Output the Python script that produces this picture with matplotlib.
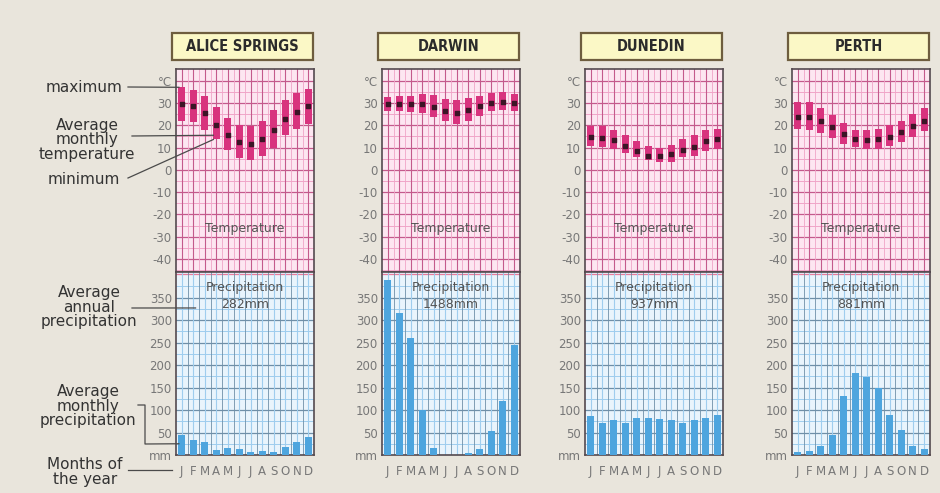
import matplotlib
matplotlib.use("Agg")
import matplotlib.pyplot as plt
from matplotlib.patches import Rectangle
from matplotlib.lines import Line2D

stations = ["ALICE SPRINGS", "DARWIN", "DUNEDIN", "PERTH"]
month_labels = list("JFMAMJJASOND")
annual_precip = ["282mm", "1488mm", "937mm", "881mm"]

# monthly maximum / mean / minimum temperature (deg C)
t_max = {
    "ALICE SPRINGS": [37, 36, 33.3, 28, 23.3, 20.3, 19.6, 22.1, 26.7, 31.5, 34.5, 36.3],
    "DARWIN":        [32.7, 33, 33.3, 34.2, 33.6, 31.8, 31.2, 32.2, 33.3, 34.5, 35, 34.2],
    "DUNEDIN":       [19.6, 19.6, 17.8, 15.4, 12.8, 10.6, 9.9, 11.3, 13.6, 15.4, 17.8, 18.4],
    "PERTH":         [30.3, 30.3, 27.8, 24.8, 21, 18, 17.8, 18.4, 20.3, 21.8, 25.2, 27.8],
}
t_min = {
    "ALICE SPRINGS": [21.8, 21.3, 17.8, 13.6, 8.8, 5.4, 4.3, 6.4, 9.9, 15.4, 18.4, 20.7],
    "DARWIN":        [26.3, 26.3, 25.8, 25.5, 23.7, 21.8, 20.6, 22.1, 24, 26.3, 26.6, 26.3],
    "DUNEDIN":       [10.6, 10.3, 9.4, 7.5, 5.7, 4.5, 3.7, 3.7, 5.8, 6.4, 8.4, 9.4],
    "PERTH":         [18.4, 18, 16.6, 14.3, 11.8, 10.3, 9.4, 9.4, 10.9, 12.4, 14.6, 17.3],
}
t_mean = {
    "ALICE SPRINGS": [29.3, 28.5, 25.5, 20.3, 15.8, 12.4, 11.8, 14, 18, 22.8, 26, 28.5],
    "DARWIN":        [29.5, 29.5, 29.6, 29.6, 28, 26.3, 25.5, 26.7, 28.5, 30, 30.3, 30],
    "DUNEDIN":       [14.6, 14.3, 13.3, 10.9, 8.5, 6.3, 6, 7, 8.8, 10.3, 12.8, 13.6],
    "PERTH":         [23.7, 23.7, 21.8, 19.1, 16.1, 14, 13.3, 13.6, 14.8, 16.9, 19.6, 22],
}
# monthly precipitation (mm)
precip = {
    "ALICE SPRINGS": [45, 34, 28, 11, 15, 13, 7, 9, 7, 17, 30, 41],
    "DARWIN":        [390, 315, 260, 99, 16, 1, 1, 4, 13, 54, 121, 244],
    "DUNEDIN":       [87, 72, 77, 72, 82, 82, 81, 77, 71, 77, 82, 90],
    "PERTH":         [6, 10, 20, 45, 132, 183, 174, 148, 88, 56, 20, 13],
}

W, H = 940, 493
BG = "#e9e5dc"
INK = "#333333"
TICK = "#777777"
PINK_BG, PINK_MAJ, PINK_MIN = "#fde6f1", "#c45a8c", "#f0a5c8"
BLUE_BG, BLUE_MAJ, BLUE_MIN = "#e9f4fc", "#6f8fa8", "#9fcdee"
BAR_T, BAR_P = "#d8337e", "#4ea5de"
EDGE = "#54494f"

fig = plt.figure(figsize=(W / 100, H / 100), dpi=100, facecolor=BG)


def box(x0, y0, x1, y1):
    """pixel box (top-left origin) -> figure rect"""
    return [x0 / W, 1 - y1 / H, (x1 - x0) / W, (y1 - y0) / H]


def fpt(x, y):
    return (x / W, 1 - y / H)


lefts = [176, 382, 585, 792]
pw = 138
months = list(range(12))
axes_t, axes_p = [], []

for i, st in enumerate(stations):
    x0 = lefts[i]
    # ---- temperature ----
    at = fig.add_axes(box(x0, 69, x0 + pw, 272), facecolor=PINK_BG)
    at.set_xlim(-0.5, 11.5)
    at.set_ylim(-45.8, 45.2)
    for v in range(-45, 45, 5):
        at.axhline(v, color=PINK_MAJ if v % 10 == 0 else PINK_MIN,
                   lw=0.9 if v % 10 == 0 else 0.7, zorder=1)
    for m in months:
        at.axvline(m, color=PINK_MAJ, lw=0.8, zorder=1)
        at.axvline(m + 0.5, color=PINK_MIN, lw=0.6, zorder=1)
    lo, hi = t_min[st], t_max[st]
    at.bar(months, [h - l for h, l in zip(hi, lo)], bottom=lo, width=0.6,
           color=BAR_T, zorder=3)
    at.scatter(months, t_mean[st], s=5, color="#3b1526", zorder=4, marker="s")
    at.text(5.5, -26.5, "Temperature", ha="center", va="center",
            fontsize=9, color="#555555", zorder=5)
    at.set_yticks(list(range(-40, 41, 10)))
    at.set_yticklabels([str(v) for v in range(-40, 40, 10)] + ["°C"])
    at.set_xticks([])
    at.tick_params(axis="y", length=0, pad=3, labelsize=8.5, labelcolor=TICK)
    for sp in at.spines.values():
        sp.set_color(EDGE)
        sp.set_linewidth(1.2)

    # ---- precipitation ----
    ap = fig.add_axes(box(x0, 272, x0 + pw, 455), facecolor=BLUE_BG)
    ap.set_xlim(-0.5, 11.5)
    ap.set_ylim(0, 407)
    for v in range(25, 400, 25):
        ap.axhline(v, color=BLUE_MAJ if v % 50 == 0 else BLUE_MIN,
                   lw=0.9 if v % 50 == 0 else 0.7, zorder=1)
    ap.axhline(402, color="#e87a9c", lw=0.9, zorder=1)
    for m in months:
        ap.axvline(m, color=BLUE_MIN, lw=0.8, zorder=1)
        ap.axvline(m + 0.5, color=BLUE_MAJ, lw=0.6, zorder=1)
    ap.bar(months, precip[st], width=0.58, color=BAR_P, zorder=3)
    ap.text(5.5, 372, "Precipitation", ha="center", va="center",
            fontsize=9, color="#555555", zorder=5)
    ap.text(5.5, 334, annual_precip[i], ha="center", va="center",
            fontsize=9, color="#555555", zorder=5)
    ap.set_yticks(list(range(0, 351, 50)))
    ap.set_yticklabels(["mm"] + [str(v) for v in range(50, 351, 50)])
    ap.set_xticks(months)
    ap.set_xticklabels(month_labels)
    ap.tick_params(axis="y", length=0, pad=3, labelsize=8.5, labelcolor=TICK)
    ap.tick_params(axis="x", length=0, pad=7, labelsize=8.5, labelcolor=TICK)
    for sp in ap.spines.values():
        sp.set_color(EDGE)
        sp.set_linewidth(1.2)

    # ---- station title box ----
    fig.add_artist(Rectangle(fpt(x0 - 4, 60), (pw + 3) / W, 27 / H,
                             transform=fig.transFigure, facecolor="#fbf8c6",
                             edgecolor="#6e5d3e", lw=1.6))
    fig.text((x0 - 4 + pw / 2 + 1.5) / W, 1 - 46.5 / H, st, ha="center",
             va="center", fontsize=10.5, fontweight="bold", color="#2b2b2b",
             fontstretch="condensed")

    axes_t.append(at)
    axes_p.append(ap)


def data_to_fig(ax, x, y):
    return fig.transFigure.inverted().transform(ax.transData.transform((x, y)))


def link(points, **kw):
    xs = [p[0] for p in points]
    ys = [p[1] for p in points]
    fig.add_artist(Line2D(xs, ys, transform=fig.transFigure, color="#4a4a4a",
                          lw=0.9, **kw))


at0, ap0 = axes_t[0], axes_p[0]
st0 = stations[0]
lab = dict(ha="center", va="center", fontsize=11, color=INK)

# left-hand key
fig.text(84 / W, 1 - 87 / H, "maximum", **lab)
link([fpt(128, 87), data_to_fig(at0, -0.25, t_max[st0][0])])
fig.text(87 / W, 1 - 140 / H, "Average\nmonthly\ntemperature", linespacing=0.92, **lab)
link([fpt(132, 136), data_to_fig(at0, 2.75, 15.5)])
fig.text(84 / W, 1 - 179 / H, "minimum", **lab)
link([fpt(128, 178), data_to_fig(at0, 2.75, t_min[st0][3])])

fig.text(89 / W, 1 - 307 / H, "Average\nannual\nprecipitation", linespacing=0.92, **lab)
link([fpt(132, 308), data_to_fig(ap0, 1.2, 327)])
fig.text(88 / W, 1 - 406 / H, "Average\nmonthly\nprecipitation", linespacing=0.92, **lab)
link([fpt(138, 405), fpt(145, 405), fpt(145, 444), data_to_fig(ap0, -0.25, 25)])
fig.text(85 / W, 1 - 472 / H, "Months of\nthe year", linespacing=0.92, **lab)
link([fpt(128, 470), fpt(172, 470)])

fig.savefig("out.png", dpi=100, facecolor=BG)
